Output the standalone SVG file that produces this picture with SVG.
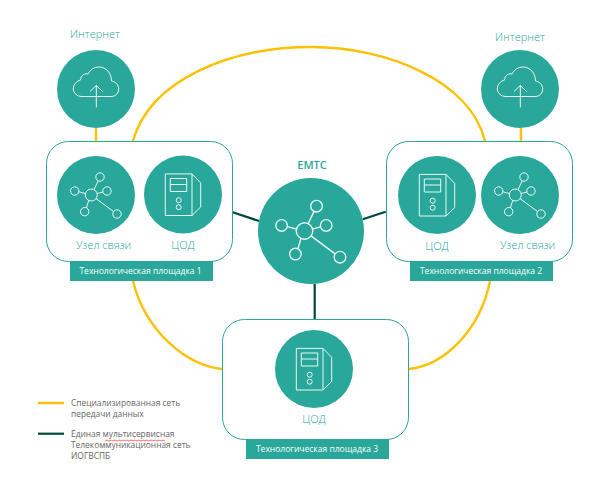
<svg xmlns="http://www.w3.org/2000/svg" width="597" height="484" viewBox="0 0 597 484">
<style>
.box{fill:#fff;stroke:#28a79a;stroke-width:1}
.c{fill:#28a79a}
.bar{fill:#28a79a}
.ic{fill:none;stroke:#fff;stroke-width:1;opacity:.9}
.y{fill:none;stroke:#ffc000;stroke-width:2.400}
.d{fill:none;stroke:#00483c;stroke-width:2.200}
text{font-family:"Open Sans","Liberation Sans",sans-serif}
.l{font-size:11px;font-weight:300;fill:#28a79a;text-anchor:middle}
.b{font-size:8.500px;fill:#fff;text-anchor:middle}
.g{font-size:8.400px;fill:#666}
</style>
<defs>
<g id="cloud"><path class="ic" d="M-14,7.500H15C20,7.500 22.700,4 22.700,0C22.700,-4.500 19,-7.500 15.500,-8C15.500,-16 10,-22 3,-22C-2,-22 -6,-19 -8,-15C-11,-16 -15,-14 -15.500,-9C-19,-8 -22.700,-5 -22.700,0C-22.700,4 -19,7.500 -14,7.500Z"/><path class="ic" d="M.3,-3.500V18.500M-6,2.500L.3,-3.500L6.600,2.500"/></g>
<g id="net"><circle class="ic" cx="-4.700" cy="0" r="6"/><circle class="ic" cx="4" cy="-18" r="4.200"/><circle class="ic" cx="11" cy="-4" r="4.200"/><circle class="ic" cx="-21.300" cy="-4" r="4.200"/><circle class="ic" cx="-11.300" cy="16.700" r="4.200"/><circle class="ic" cx="21" cy="19" r="4.200"/><path class="ic" d="M-2,-5.400L2.200,-14.200M.9,-1.400L7,-3M-10.400,-1.400L-17.200,-3.200M-7.300,5.400L-9.500,12.900M0,3.500L17.500,16.600"/></g>
<g id="srv"><path class="ic" d="M-17.700,-20.600H9V21H-17.700ZM9,-20.600L17.700,-11.600V12.400L9,21"/><path class="ic" d="M-12.700,-16H3.700V-3H-12.700ZM-12.700,-10H3.700"/><circle class="ic" cx="-4.300" cy="5.700" r="2.500"/><circle class="ic" cx="-4.300" cy="12.700" r="2.500"/></g>
</defs>
<g id="connectors">
<path class="y" d="M133,141C150,80 230,47 312,47C385,47 470,80 485,141"/>
<path class="y" d="M133,281C145,330 185,365 222,369"/>
<path class="y" d="M490,281C480,330 445,365 409,369"/>
<path class="y" d="M96,128V156M521,128V156"/>
<path class="d" d="M232.700,212.300L259,221M362.700,219.300L385.700,211.700M314.700,284V319"/>
</g>
<g id="site1"><rect class="box" x="46.500" y="141.500" width="186" height="120" rx="22"/><rect class="bar" x="70" y="261" width="143" height="20"/><text class="b" x="140.500" y="274">Технологическая площадка 1</text></g>
<g id="site2"><rect class="box" x="386.500" y="141.500" width="186" height="120" rx="22"/><rect class="bar" x="410" y="261" width="143" height="20"/><text class="b" x="481" y="274">Технологическая площадка 2</text></g>
<g id="site3"><rect class="box" x="222.500" y="319.500" width="186" height="120" rx="22"/><rect class="bar" x="246" y="439" width="143" height="20"/><text class="b" x="317" y="452">Технологическая площадка 3</text></g>
<g id="internet1"><text class="l" x="95" y="38">Интернет</text><circle class="c" cx="96" cy="89" r="39"/><use href="#cloud" x="96" y="89"/></g>
<g id="internet2"><text class="l" x="520" y="41">Интернет</text><circle class="c" cx="520" cy="89" r="39"/><use href="#cloud" x="520" y="89"/></g>
<g id="node1"><circle class="c" cx="96" cy="195" r="39"/><use href="#net" x="96" y="195"/><text class="l" x="103.500" y="249">Узел связи</text></g>
<g id="cod1"><circle class="c" cx="183" cy="194.500" r="39"/><use href="#srv" x="183" y="194.500"/><text class="l" x="183" y="249">ЦОД</text></g>
<g id="cod2"><circle class="c" cx="437" cy="195" r="39"/><use href="#srv" x="437" y="195"/><text class="l" x="437" y="250">ЦОД</text></g>
<g id="node2"><circle class="c" cx="520" cy="195" r="39"/><use href="#net" x="520" y="195"/><text class="l" x="527.500" y="249">Узел связи</text></g>
<g id="cod3"><circle class="c" cx="314" cy="369" r="39"/><use href="#srv" x="314" y="369"/><text class="l" x="314" y="423">ЦОД</text></g>
<g id="emts"><text x="312" y="169" font-size="11" font-weight="600" fill="#28a79a" text-anchor="middle">ЕМТС</text><circle class="c" cx="311" cy="231" r="53"/><use href="#net" transform="translate(311 231) scale(1.38)"/></g>
<g id="legend">
<path class="y" d="M38,403H64"/><path class="d" d="M38,433.700H64"/>
<text class="g" x="71" y="405.500">Специализированная сеть</text>
<text class="g" x="71" y="416.500">передачи данных</text>
<text class="g" x="71" y="437">Единая мультисервисная</text>
<text class="g" x="71" y="448">Телекоммуникационная сеть</text>
<text class="g" x="71" y="459">ИОГВСПБ</text>
<path d="M105,441l2,-1 2,1 2,-1 2,1 2,-1 2,1 2,-1 2,1 2,-1 2,1 2,-1 2,1 2,-1 2,1 2,-1 2,1 2,-1 2,1 2,-1 2,1 2,-1 2,1 2,-1 2,1 2,-1 2,1 2,-1 2,1 2,-1 2,1" fill="none" stroke="#e33" stroke-width=".7"/>
</g>
</svg>
